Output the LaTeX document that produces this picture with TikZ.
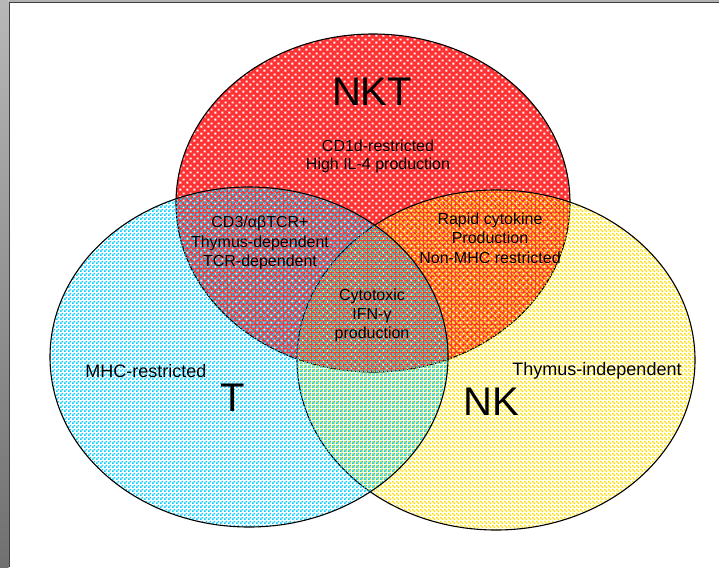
\documentclass[tikz,border=0pt]{standalone}
\usepackage{fontspec}
\setmainfont{Liberation Sans}
\usetikzlibrary{patterns}

% checker cells and dots for the fills
\pgfdeclarepatternformonly{checkA}{\pgfqpoint{0pt}{0pt}}{\pgfqpoint{4pt}{4pt}}{\pgfqpoint{4pt}{4pt}}{%
  \pgfpathrectangle{\pgfqpoint{0pt}{0pt}}{\pgfqpoint{2pt}{2pt}}%
  \pgfpathrectangle{\pgfqpoint{2pt}{2pt}}{\pgfqpoint{2pt}{2pt}}%
  \pgfusepath{fill}}
\pgfdeclarepatternformonly{checkB}{\pgfqpoint{0pt}{0pt}}{\pgfqpoint{4pt}{4pt}}{\pgfqpoint{4pt}{4pt}}{%
  \pgfpathrectangle{\pgfqpoint{2pt}{0pt}}{\pgfqpoint{2pt}{2pt}}%
  \pgfpathrectangle{\pgfqpoint{0pt}{2pt}}{\pgfqpoint{2pt}{2pt}}%
  \pgfusepath{fill}}
\pgfdeclarepatternformonly{whitedots}{\pgfqpoint{0pt}{0pt}}{\pgfqpoint{7.2pt}{7.2pt}}{\pgfqpoint{7.2pt}{7.2pt}}{%
  \pgfpathrectangle{\pgfqpoint{0.5pt}{0.5pt}}{\pgfqpoint{2pt}{2pt}}%
  \pgfpathrectangle{\pgfqpoint{4.1pt}{4.1pt}}{\pgfqpoint{2pt}{2pt}}%
  \pgfusepath{fill}}

\definecolor{nktred}{RGB}{255,51,51}
\definecolor{tcyan}{RGB}{0,204,255}
\definecolor{nkyellow}{RGB}{255,224,0}

\begin{document}
\begin{tikzpicture}[x=1pt,y=-1pt,
    outline/.style={line width=1.1pt, black},
    biglabel/.style={inner sep=0pt, font=\fontsize{40}{40}\selectfont},
    inlabel/.style={inner sep=0pt, align=center, font=\fontsize{16}{19.5}\selectfont},
    sidelabel/.style={inner sep=0pt, font=\fontsize{18}{20}\selectfont}]

        \useasboundingbox (0,0) rectangle (719,567);

        % frame
        \shade[top color=black!28, bottom color=black!56] (0,0) rectangle (8.5,567);
        \fill[black!30] (8.5,0) rectangle (719,1.6);
        \draw[line width=1.3pt, black!75] (9.2,567) -- (9.2,2.2) -- (719,2.2);

        \coordinate (NKT) at (373,203);
        \coordinate (T) at (249,357);
        \coordinate (NK) at (496,360);

        \fill[nktred] (NKT) ellipse [x radius=197pt, y radius=169pt];
        \fill[pattern=whitedots, pattern color=white] (NKT) ellipse [x radius=197pt, y radius=169pt];
        \draw[outline] (NKT) ellipse [x radius=197pt, y radius=169pt];

        \fill[pattern=checkB, pattern color=nkyellow] (NK) ellipse [x radius=199pt, y radius=170pt];
        \draw[outline] (NK) ellipse [x radius=199pt, y radius=170pt];

        % red cells in the middle part
        \begin{scope}
            \clip (NKT) ellipse [x radius=197pt, y radius=169pt];
            \clip (NK) ellipse [x radius=199pt, y radius=170pt];
            \fill[pattern=checkB, pattern color=nktred] (T) ellipse [x radius=199pt, y radius=170pt];
        \end{scope}

        \fill[pattern=checkA, pattern color=tcyan] (T) ellipse [x radius=199pt, y radius=170pt];
        \draw[outline] (T) ellipse [x radius=199pt, y radius=170pt];

        \node[biglabel] (nktname) at (372,92) {NKT};
        \node[biglabel] (tname) at (233,398) {T};
        \node[biglabel] (nkname) at (491,402) {NK};

        \node[inlabel, font=\fontsize{16}{18}\selectfont] (nktonly) at (378,156) {CD1d-restricted\\High IL-4 production};
        \node[inlabel] (nktt) at (260,243) {CD3/αβTCR+\\Thymus-dependent\\TCR-dependent};
        \node[inlabel] (nktnk) at (490,238) {Rapid cytokine\\Production\\Non-MHC restricted};
        \node[inlabel, font=\fontsize{16}{19}\selectfont] (allthree) at (372,315) {Cytotoxic\\IFN-γ\\production};

        \node[sidelabel] (tonly) at (146,371) {MHC-restricted};
        \node[sidelabel] (nkonly) at (597,371) {Thymus-independent};
    \end{tikzpicture}
\end{document}
